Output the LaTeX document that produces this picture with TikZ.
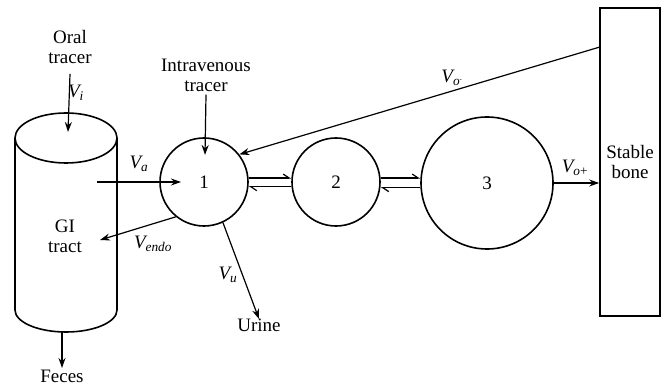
\documentclass[tikz,border=0pt]{standalone}
\usepackage{fontspec}
\setmainfont{Liberation Serif}
\usetikzlibrary{arrows.meta,calc}
\begin{document}
\begin{tikzpicture}[x=1pt,y=-1pt,
  txt/.style={font=\fontsize{19}{20}\selectfont, align=center, inner sep=0pt},
  lbl/.style={font=\fontsize{19}{20}\selectfont\itshape, inner sep=0pt},
  comp/.style={circle, draw, line width=1.6pt, inner sep=0pt, font=\fontsize{19}{20}\selectfont},
  flow/.style={line width=1.2pt, -{Stealth[length=10pt,width=7pt]}},
  harp/.style={line width=1.2pt, -{Straight Barb[left,length=6pt,width=8pt]}}]
\useasboundingbox (0,0) rectangle (663,387);

% GI tract cylinder
\draw[line width=1.6pt] (66,138) ellipse [x radius=51pt, y radius=25pt];
\draw[line width=1.6pt] (15,138) -- (15,310) arc[start angle=180, end angle=360, x radius=51pt, y radius=22pt] -- (117,138);
\node[txt] (gi) at (65,236) {GI\\tract};
\coordinate (gitop) at (68,132);
\coordinate (gibot) at (62,332);
\coordinate (vain) at (97,182);
\coordinate (endotip) at (100,240);

% texts
\node[txt] (oral) at (70,47) {Oral\\tracer};
\node[txt] (iv) at (206,75) {Intravenous\\tracer};
\node[txt, anchor=north] (urine) at (259,319) {Urine};
\node[txt, anchor=south] (feces) at (62,383) {Feces};

% compartments
\node[comp, minimum size=88pt] (c1) at (204,182) {1};
\node[comp, minimum size=88pt] (c2) at (336,182) {2};
\node[comp, minimum size=132pt] (c3) at (487,183) {3};
\node[draw, line width=1.6pt, minimum width=60pt, minimum height=308pt, inner sep=0pt, txt] (bone) at (630,162) {Stable\\bone};

\coordinate (ivtip) at (205,155);
\coordinate (vatip) at (181,182);

% flows
\draw[flow] ([yshift=-10pt]oral.south) -- (gitop);
\draw[flow] ([yshift=-3pt]iv.south) -- (ivtip);
\draw[flow] (vain) -- (vatip);
\draw[flow] (c1.231) -- (endotip);
\draw[flow] (c1.295) -- (urine.north);
\draw[flow] (gibot) -- ([yshift=2pt]feces.north);
\draw[flow] ([yshift=-40pt]bone.north west) -- (c1.38);
\draw[flow] (c3.east) -- (c3.east -| bone.west);

% exchanges
\draw[harp] (c1.5) -- (c1.5 -| c2.west);
\draw[harp] (c2.186.5) -- (c2.186.5 -| c1.east);
\draw[harp] (c2.5) -- (c2.5 -| c3.west);
\draw[harp] (c3.184.3) -- (c3.184.3 -| c2.east);

% labels
\node[lbl] (vi) at (76,93) {V\textsubscript{i}};
\node[lbl] (va) at (139,164) {V\textsubscript{a}};
\node[lbl] (vendo) at (153,244) {V\textsubscript{endo}};
\node[lbl] (vu) at (228,275) {V\textsubscript{u}};
\node[lbl] (vom) at (452,78) {V\textsubscript{o\raisebox{0.6ex}{\upshape\scriptsize -}}};
\node[lbl] (vop) at (575,168) {V\textsubscript{o\upshape +}};
\end{tikzpicture}
\end{document}
